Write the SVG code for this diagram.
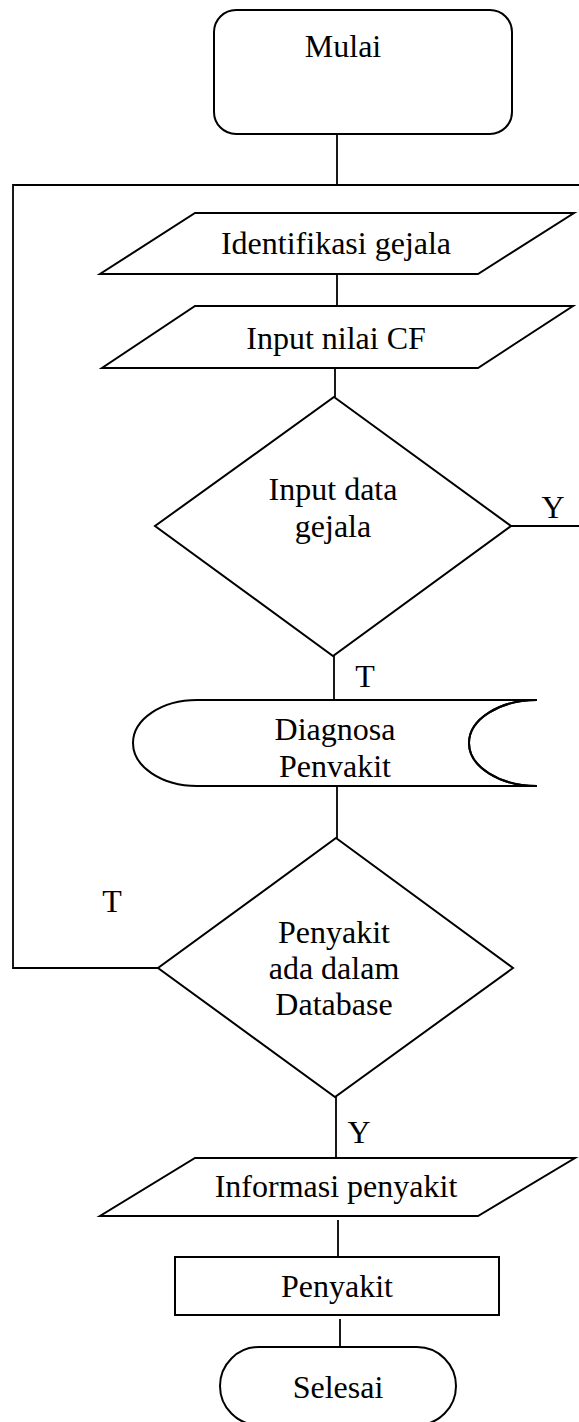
<svg xmlns="http://www.w3.org/2000/svg" width="579" height="1422" viewBox="0 0 579 1422">
<style>
.s{fill:#fff;stroke:#000;stroke-width:2}
.c{fill:none;stroke:#000;stroke-width:1.8}
text{font-family:"Liberation Serif","Times New Roman",serif;font-size:32px;fill:#000;text-anchor:middle}
</style>
<rect width="579" height="1422" fill="#fff"/>
<g id="connectors">
<path class="c" d="M337 134V185"/>
<path class="c" d="M579 185H13V968H158"/>
<path class="c" d="M337 274V306"/>
<path class="c" d="M335 368V397"/>
<path class="c" d="M511 526H579"/>
<path class="c" d="M334 656V700"/>
<path class="c" d="M337 786V838"/>
<path class="c" d="M336 1097V1158"/>
<path class="c" d="M338 1220V1257"/>
<path class="c" d="M340 1319V1350"/>
<text x="553" y="518">Y</text>
<text x="365" y="687">T</text>
<text x="112" y="912">T</text>
<text x="359" y="1143">Y</text>
</g>
<g id="mulai">
<rect class="s" x="214" y="10" width="298" height="124" rx="22"/>
<text x="343" y="57">Mulai</text>
</g>
<g id="identifikasi">
<polygon class="s" points="195,213 574,213 478,274 100,274"/>
<text x="336" y="254">Identifikasi gejala</text>
</g>
<g id="inputcf">
<polygon class="s" points="195,306 573,306 478,368 102,368"/>
<text x="336" y="349">Input nilai CF</text>
</g>
<g id="inputdata">
<polygon class="s" points="334,397 511,526 333,656 155,526"/>
<text x="333" y="500">Input data</text>
<text x="333" y="537">gejala</text>
</g>
<g id="diagnosa">
<path class="s" d="M197 700H537A68 43 0 0 0 537 786H197A64 43 0 0 1 197 700Z"/>
<path class="c" d="M537 700A68 43 0 0 0 537 786" style="stroke-width:2"/>
<text x="335" y="740">Diagnosa</text>
<text x="335" y="777">Penvakit</text>
</g>
<g id="database">
<polygon class="s" points="336,838 513,968 335,1097 158,968"/>
<text x="334" y="943">Penyakit</text>
<text x="334" y="979">ada dalam</text>
<text x="334" y="1015">Database</text>
</g>
<g id="informasi">
<polygon class="s" points="195,1158 575,1158 478,1216 100,1216"/>
<text x="336" y="1197">Informasi penyakit</text>
</g>
<g id="penyakit">
<rect class="s" x="175" y="1257" width="324" height="58"/>
<text x="337" y="1297">Penyakit</text>
</g>
<g id="selesai">
<rect class="s" x="220" y="1347" width="236" height="78" rx="39"/>
<text x="338" y="1398">Selesai</text>
</g>
</svg>
